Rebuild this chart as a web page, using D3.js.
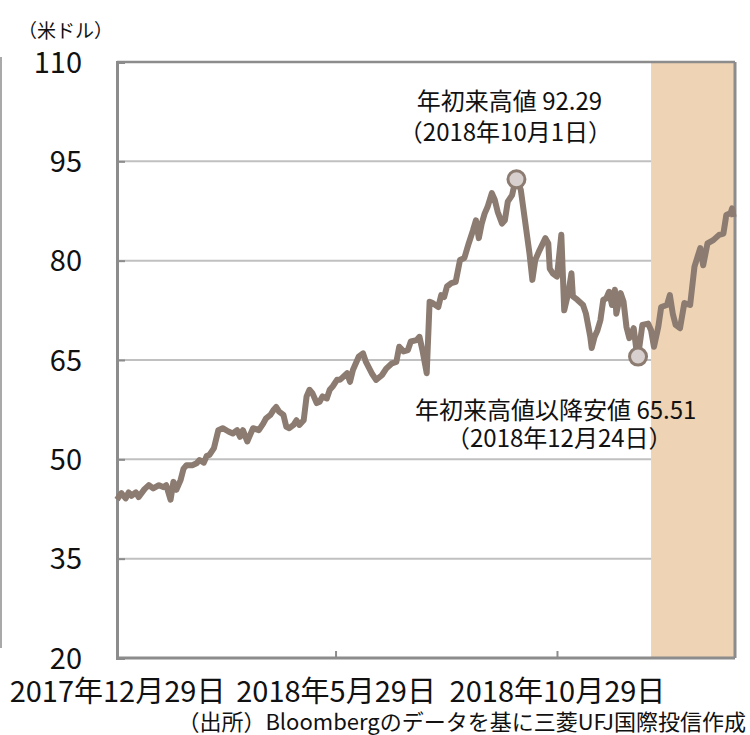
<!DOCTYPE html>
<html>
<head>
<meta charset="utf-8">
<script src="https://cdn.jsdelivr.net/npm/d3@7"></script>
<style>
  body { margin: 0; background: #fff; }
  svg { display: block; font-family: "Noto Sans CJK JP", "Noto Sans", sans-serif; }
</style>
</head>
<body>
<div id="chart"></div>
<script>
// price series (USD)
var dates = [
  "2017-12-29","2018-01-01","2018-01-04","2018-01-06","2018-01-08","2018-01-11","2018-01-13","2018-01-17",
  "2018-01-20","2018-01-23","2018-01-27","2018-01-30","2018-02-01","2018-02-04","2018-02-06","2018-02-08",
  "2018-02-11","2018-02-13","2018-02-15","2018-02-19","2018-02-22","2018-02-24","2018-02-27","2018-03-01",
  "2018-03-03","2018-03-06","2018-03-09","2018-03-12","2018-03-16","2018-03-19","2018-03-22","2018-03-24",
  "2018-03-26","2018-03-29","2018-03-31","2018-04-02","2018-04-06","2018-04-09","2018-04-11","2018-04-14",
  "2018-04-16","2018-04-18","2018-04-20","2018-04-23","2018-04-25","2018-04-27","2018-04-30","2018-05-02",
  "2018-05-04","2018-05-07","2018-05-09","2018-05-11","2018-05-13","2018-05-16","2018-05-18","2018-05-20",
  "2018-05-23","2018-05-25","2018-05-27","2018-05-30","2018-06-01","2018-06-06","2018-06-08","2018-06-10",
  "2018-06-14","2018-06-17","2018-06-19","2018-06-23","2018-06-26","2018-06-30","2018-07-03","2018-07-07",
  "2018-07-10","2018-07-12","2018-07-15","2018-07-18","2018-07-20","2018-07-24","2018-07-26","2018-07-28",
  "2018-07-31","2018-08-02","2018-08-04","2018-08-08","2018-08-10","2018-08-12","2018-08-14","2018-08-17",
  "2018-08-20","2018-08-23","2018-08-26","2018-08-29","2018-09-01","2018-09-03","2018-09-05","2018-09-07",
  "2018-09-09","2018-09-11","2018-09-14","2018-09-16","2018-09-18","2018-09-21","2018-09-23","2018-09-25",
  "2018-09-28","2018-09-30","2018-10-01","2018-10-04","2018-10-07","2018-10-10","2018-10-12","2018-10-14",
  "2018-10-17","2018-10-21","2018-10-23","2018-10-24","2018-10-26","2018-10-29","2018-11-01","2018-11-03",
  "2018-11-06","2018-11-08","2018-11-09","2018-11-12","2018-11-16","2018-11-18","2018-11-21","2018-11-22",
  "2018-11-24","2018-11-26","2018-11-28","2018-11-30","2018-12-02","2018-12-04","2018-12-06","2018-12-08",
  "2018-12-09","2018-12-12","2018-12-14","2018-12-16","2018-12-18","2018-12-21","2018-12-23","2018-12-24",
  "2018-12-27","2018-12-31","2019-01-02","2019-01-04","2019-01-07","2019-01-09","2019-01-13","2019-01-15",
  "2019-01-17","2019-01-19","2019-01-22","2019-01-25","2019-01-29","2019-02-01","2019-02-05","2019-02-07",
  "2019-02-10","2019-02-14","2019-02-18","2019-02-21","2019-02-23","2019-02-26","2019-02-27","2019-02-28"
];
var prices = [
  43.9,44.9,44.1,45.0,44.5,45.0,44.3,45.5,
  46.1,45.6,46.1,45.8,46.1,43.9,46.6,45.4,
  46.9,48.6,49.1,49.1,49.4,49.9,49.5,50.5,
  50.7,51.7,54.4,54.7,54.2,53.9,54.4,53.4,
  54.4,52.7,53.7,54.7,54.4,55.4,56.2,56.7,
  57.4,57.9,57.2,56.7,54.9,54.7,55.2,55.9,
  55.2,55.9,59.5,60.5,60.0,58.5,58.7,59.5,
  59.2,60.5,61.0,62.0,62.0,63.0,61.7,63.5,
  65.5,66.0,64.7,63.0,62.0,62.7,63.7,64.5,
  64.7,67.0,66.3,66.5,67.8,68.0,68.5,66.5,
  63.0,73.8,73.6,73.0,74.8,74.5,76.1,76.6,
  76.8,80.1,80.4,82.6,84.6,86.1,83.4,85.6,
  87.1,88.1,90.2,89.2,87.4,85.6,86.1,88.9,
  89.9,91.9,92.29,90.7,85.9,81.1,77.1,80.1,
  81.6,83.4,82.6,78.8,78.1,77.6,83.9,72.5,
  75.3,78.1,74.6,74.1,73.3,72.0,68.5,66.8,
  68.5,69.5,71.0,74.1,74.3,75.3,73.3,75.6,
  72.0,75.1,73.8,70.0,68.3,69.8,66.3,65.51,
  70.3,70.5,69.5,67.0,70.0,73.0,73.3,74.8,
  72.0,70.3,69.8,73.6,73.3,79.1,81.9,79.3,
  82.6,83.1,83.9,84.1,86.9,87.2,87.9,86.6
];

var yTicks = [20, 35, 50, 65, 80, 95, 110];
var xTickDates = ["2017-12-29", "2018-05-29", "2018-10-29"];
var xDomain = ["2017-12-29", "2019-03-01"];
var shadeFrom = "2019-01-02";

var highDate = "2018-10-01", highValue = 92.29;
var lowDate = "2018-12-24", lowValue = 65.51;

var parse = d3.timeParse("%Y-%m-%d");
var fmtJp = function (d) { return d.getFullYear() + "年" + (d.getMonth() + 1) + "月" + d.getDate() + "日"; };

var W = 750, H = 735;
var m = { top: 62, right: 15, bottom: 77, left: 117 };

var svg = d3.select("#chart").append("svg")
  .attr("width", W).attr("height", H);

var x = d3.scaleTime().domain(xDomain.map(parse)).range([m.left, W - m.right]);
var y = d3.scaleLinear().domain([20, 110]).range([H - m.bottom, m.top]);

var data = dates.map(function (d, i) { return { date: parse(d), v: prices[i] }; });

// grid
svg.append("g").selectAll("line").data(yTicks.slice(1, -1)).join("line")
  .attr("x1", m.left).attr("x2", W - m.right)
  .attr("y1", function (d) { return y(d); }).attr("y2", function (d) { return y(d); })
  .attr("stroke", "#c0c0c0").attr("stroke-width", 2);

// shaded 2019 span
svg.append("rect")
  .attr("x", x(parse(shadeFrom))).attr("y", m.top)
  .attr("width", W - m.right - x(parse(shadeFrom))).attr("height", y(20) - m.top)
  .attr("fill", "#eed3b5");

// frame
svg.append("line").attr("x1", m.left).attr("x2", W - m.right).attr("y1", m.top).attr("y2", m.top)
  .attr("stroke", "#8c8c8c").attr("stroke-width", 2.5);
svg.append("line").attr("x1", W - m.right).attr("x2", W - m.right).attr("y1", m.top).attr("y2", y(20))
  .attr("stroke", "#8c8c8c").attr("stroke-width", 3);
svg.append("line").attr("x1", 1).attr("x2", 1).attr("y1", 57).attr("y2", 648)
  .attr("stroke", "#8c8c8c").attr("stroke-width", 1.5);

// y axis
var yAxis = svg.append("g").attr("transform", "translate(" + m.left + ",0)")
  .call(d3.axisRight(y).tickValues(yTicks).tickSize(8).tickFormat(d3.format("d")));
yAxis.select(".domain").attr("stroke", "#8c8c8c").attr("stroke-width", 3);
yAxis.selectAll(".tick line").attr("stroke", "#8c8c8c").attr("stroke-width", 2);
yAxis.selectAll(".tick text")
  .attr("x", -35).attr("text-anchor", "end").attr("dy", "0.35em")
  .style("font-size", "29px").attr("fill", "#111")
  .style("font-family", "'Noto Sans CJK JP', sans-serif");

// x axis
var xAxis = svg.append("g").attr("transform", "translate(0," + y(20) + ")")
  .call(d3.axisTop(x).tickValues(xTickDates.map(parse)).tickSize(7).tickFormat(fmtJp));
xAxis.select(".domain").remove();
xAxis.selectAll(".tick line").attr("stroke", "#8c8c8c").attr("stroke-width", 2);
xAxis.selectAll(".tick text")
  .attr("y", 44).attr("dy", 0)
  .style("font-size", "29px").attr("fill", "#111")
  .style("font-family", "'Noto Sans CJK JP', sans-serif");
svg.append("line").attr("x1", m.left).attr("x2", W - m.right).attr("y1", y(20)).attr("y2", y(20))
  .attr("stroke", "#8c8c8c").attr("stroke-width", 3);

// price line
svg.append("path").datum(data)
  .attr("fill", "none").attr("stroke", "#8c7b70").attr("stroke-width", 6)
  .attr("stroke-linejoin", "round")
  .attr("d", d3.line().x(function (d) { return x(d.date); }).y(function (d) { return y(d.v); }));

// markers
[[highDate, highValue], [lowDate, lowValue]].forEach(function (p) {
  svg.append("circle")
    .attr("cx", x(parse(p[0]))).attr("cy", y(p[1])).attr("r", 8.5)
    .attr("fill", "#d8d0ce").attr("stroke", "#8c7b70").attr("stroke-width", 3);
});

// annotations
var hx = x(parse(highDate)), hy = y(highValue);
svg.append("text").attr("x", hx - 7).attr("y", hy - 69).attr("text-anchor", "middle")
  .style("font-size", "24px").attr("fill", "#111").text("年初来高値 " + highValue.toFixed(2));
svg.append("text").attr("x", hx - 11).attr("y", hy - 38).attr("text-anchor", "middle")
  .style("font-size", "24px").attr("fill", "#111").text("（" + fmtJp(parse(highDate)) + "）");

var lx = x(parse(lowDate)), ly = y(lowValue);
svg.append("text").attr("x", lx - 223).attr("y", ly + 62).attr("text-anchor", "start")
  .style("font-size", "24px").attr("fill", "#111").text("年初来高値以降安値 " + lowValue.toFixed(2));
svg.append("text").attr("x", lx - 192).attr("y", ly + 90).attr("text-anchor", "start")
  .style("font-size", "24px").attr("fill", "#111").text("（" + fmtJp(parse(lowDate)) + "）");

// unit & source
svg.append("text").attr("x", 18).attr("y", 38)
  .style("font-size", "19px").attr("fill", "#111").text("（米ドル）");
svg.append("text").attr("x", 746).attr("y", 730).attr("text-anchor", "end")
  .style("font-size", "22px").attr("fill", "#111").text("（出所）Bloombergのデータを基に三菱UFJ国際投信作成");
</script>
</body>
</html>
